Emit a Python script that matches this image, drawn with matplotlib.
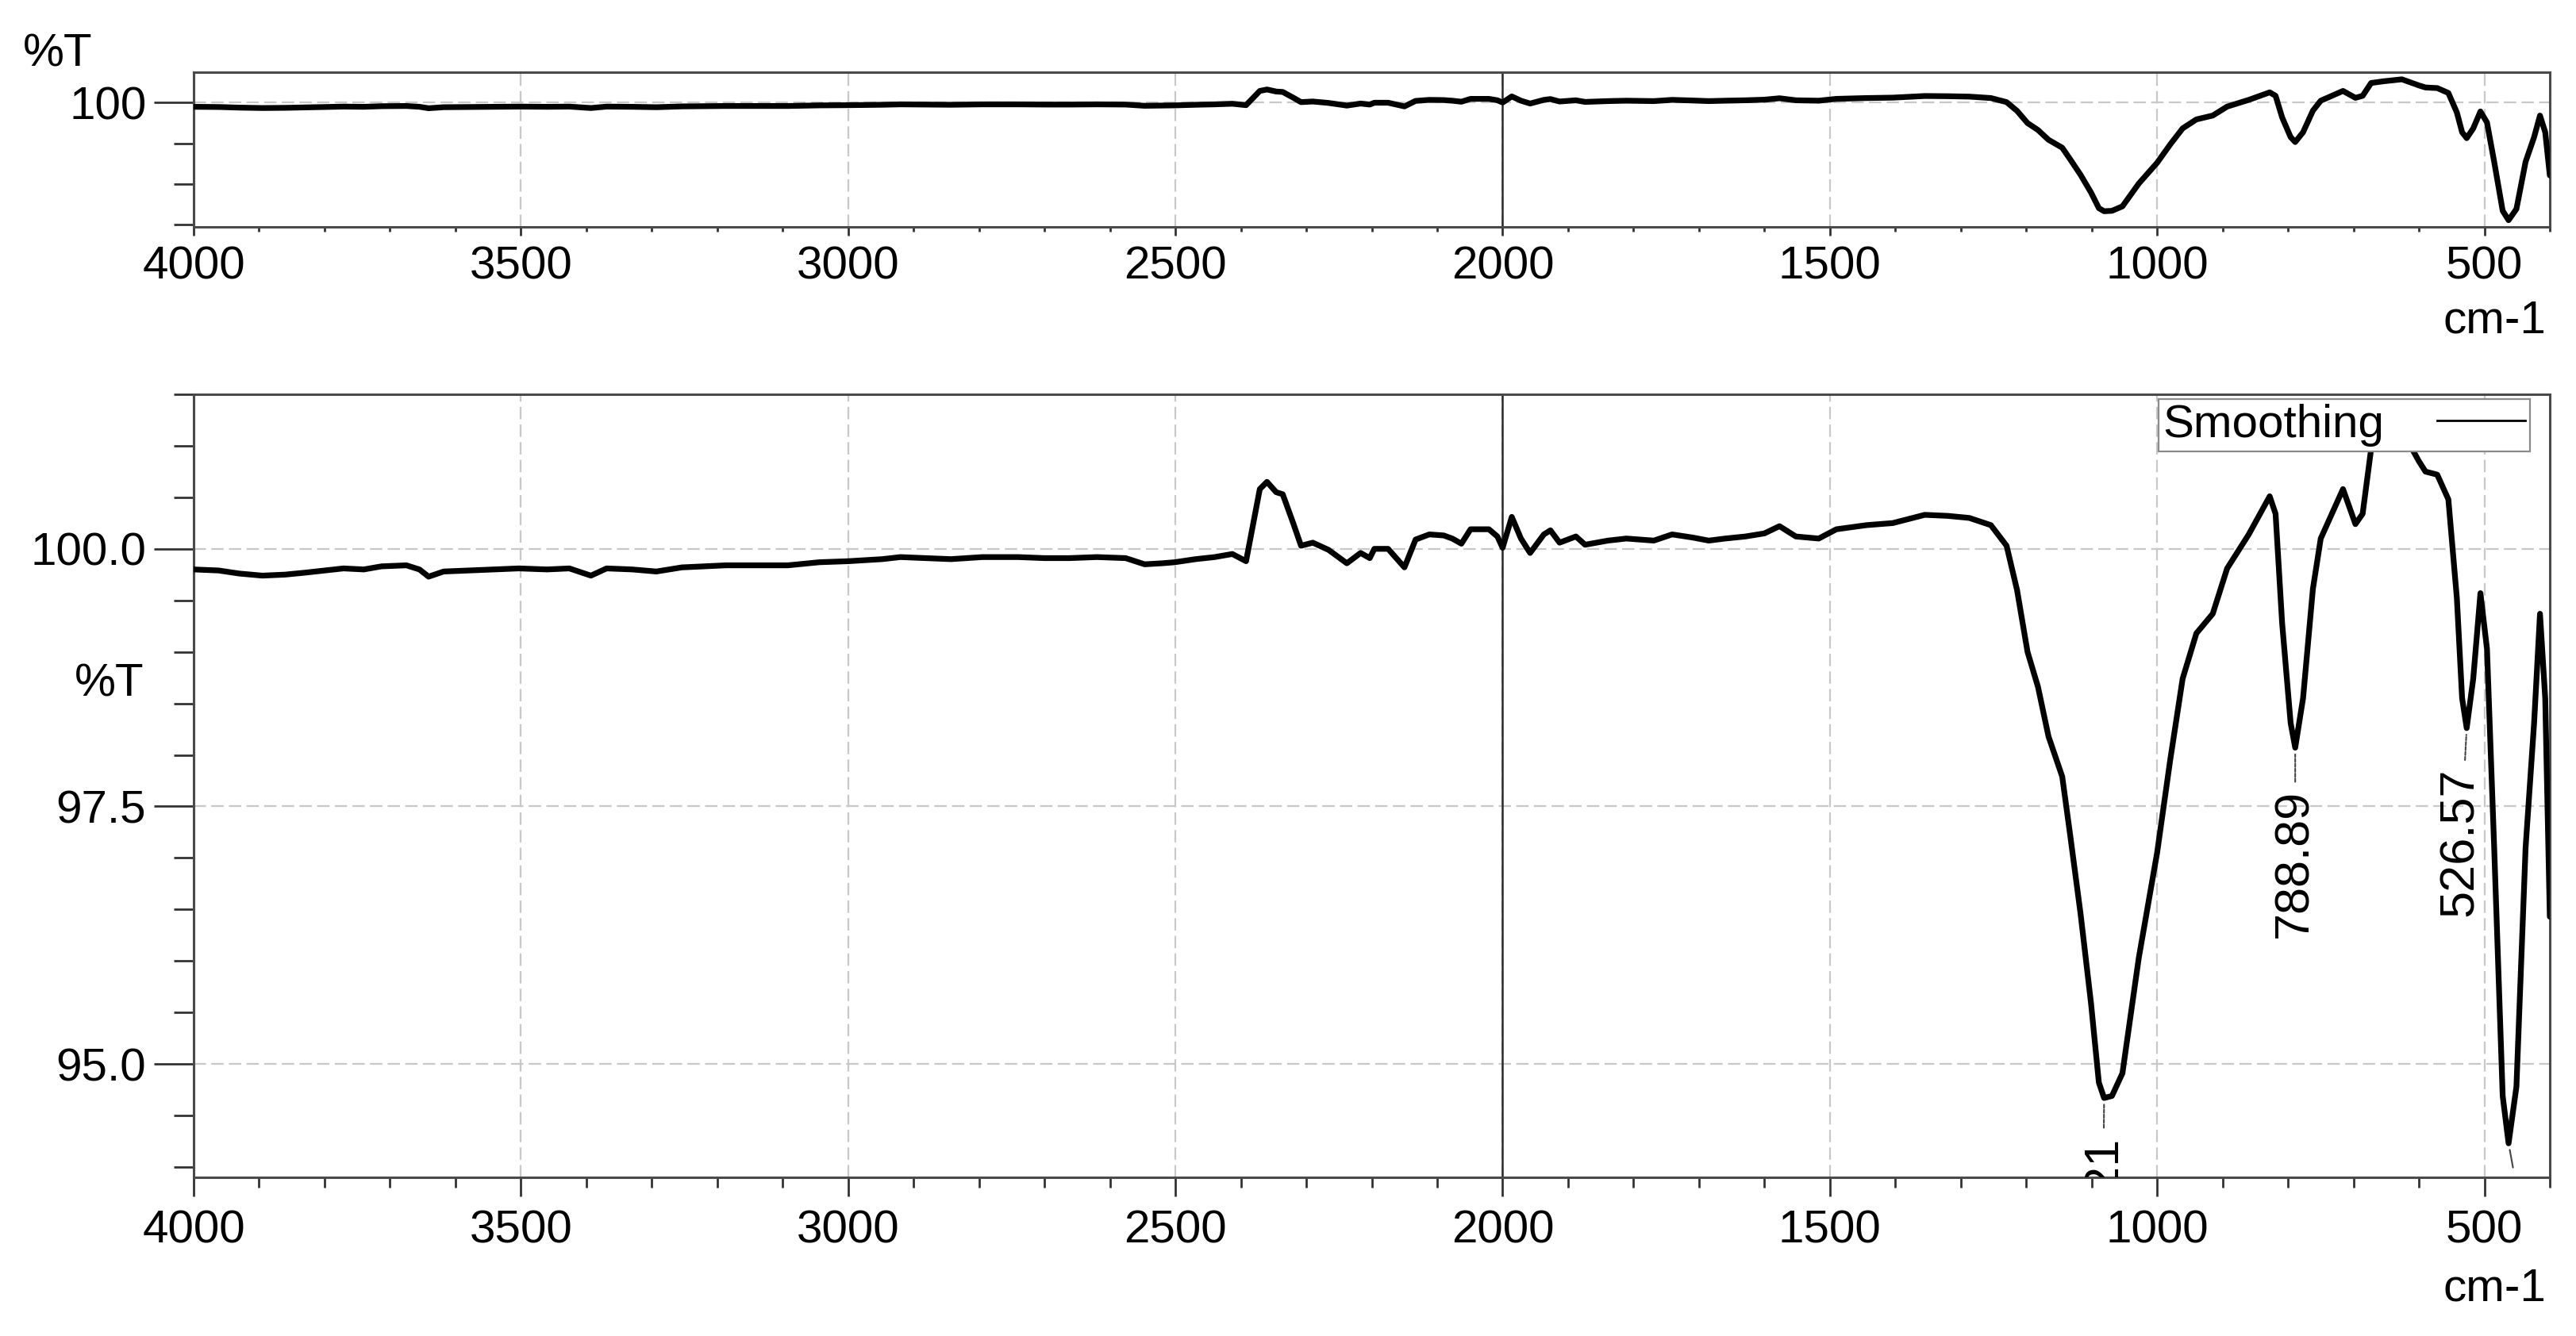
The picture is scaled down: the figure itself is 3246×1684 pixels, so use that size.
import matplotlib
matplotlib.use("Agg")
import matplotlib.pyplot as plt
from matplotlib.ticker import MultipleLocator, FixedLocator, FormatStrFormatter
from matplotlib.lines import Line2D

plt.rcParams['font.family'] = ['Liberation Sans', 'DejaVu Sans']

# ---- data ----
wavenumber = [4000, 3962, 3930, 3895, 3860, 3828, 3800, 3771, 3740, 3713, 3675, 3655, 3641,
              3618, 3580, 3540, 3503, 3460, 3426, 3393, 3369, 3330, 3293, 3254, 3220, 3187,
              3140, 3092, 3044, 3000, 2948, 2920, 2880, 2843, 2795, 2740, 2700, 2662, 2620,
              2576, 2547, 2520, 2501, 2469, 2440, 2413, 2392, 2371, 2360, 2346, 2336, 2320,
              2308, 2290, 2266, 2238, 2217, 2203, 2196, 2175, 2150, 2133, 2112, 2090, 2077,
              2063, 2049, 2021, 2008, 2000, 1986, 1972, 1958, 1937, 1927, 1913, 1888, 1874,
              1839, 1811, 1790, 1769, 1741, 1710, 1685, 1660, 1629, 1600, 1577, 1552, 1517,
              1490, 1444, 1404, 1355, 1320, 1287, 1254, 1230, 1214, 1198, 1182, 1166, 1145,
              1133, 1117, 1101, 1089, 1081, 1069, 1053, 1028, 1000, 980, 961, 940, 915, 893,
              860, 828, 819, 809, 796, 789, 777, 762, 750, 716, 697, 686, 673, 655, 626, 600,
              590, 572, 555, 542, 534, 527, 517, 506, 496, 485, 472, 463, 451, 437, 424, 415,
              407, 400]
transmittance = [99.80, 99.79, 99.76, 99.74, 99.75, 99.77, 99.79, 99.81, 99.80, 99.83, 99.84,
                 99.80, 99.73, 99.78, 99.79, 99.80, 99.81, 99.80, 99.81, 99.74, 99.81, 99.80,
                 99.78, 99.82, 99.83, 99.84, 99.84, 99.84, 99.87, 99.88, 99.90, 99.92, 99.91,
                 99.90, 99.92, 99.92, 99.91, 99.91, 99.92, 99.91, 99.85, 99.86, 99.87, 99.90,
                 99.92, 99.95, 99.88, 100.58, 100.65, 100.55, 100.53, 100.25, 100.03, 100.06,
                 99.99, 99.86, 99.96, 99.91, 100.00, 100.00, 99.82, 100.09, 100.14, 100.13,
                 100.10, 100.05, 100.19, 100.19, 100.12, 100.01, 100.31, 100.10, 99.96, 100.14,
                 100.18, 100.06, 100.12, 100.04, 100.08, 100.10, 100.09, 100.08, 100.14, 100.11,
                 100.08, 100.10, 100.12, 100.15, 100.22, 100.12, 100.10, 100.19, 100.23, 100.25,
                 100.33, 100.32, 100.30, 100.23, 100.03, 99.60, 99.00, 98.66, 98.18, 97.79,
                 97.23, 96.46, 95.59, 94.82, 94.67, 94.69, 94.91, 96.03, 97.05, 97.95, 98.74,
                 99.18, 99.37, 99.81, 100.14, 100.51, 100.34, 99.28, 98.31, 98.07, 98.55, 99.61,
                 100.10, 100.58, 100.24, 100.34, 100.97, 101.05, 101.15, 100.85, 100.75, 100.72,
                 100.48, 99.52, 98.55, 98.26, 98.74, 99.57, 99.03, 97.10, 94.69, 94.23, 94.78,
                 97.10, 98.31, 99.37, 98.55, 96.43]

peak_wn = [1081, 789, 527]
peak_T = [94.67, 98.07, 98.26]
peak_labels = ["1080.21", "788.89", "526.57"]
peak_text_dx = [-1.0, 0.0, -5.5]          # points
peak_text_dy = [-34, -38, -36]            # points
unlabeled_peak_wn = [463]
unlabeled_peak_T = [94.23]

x_major = [4000, 3500, 3000, 2500, 2000, 1500, 1000, 500]
top_y_major = [100]
top_y_minor = [94, 96, 98]
low_y_major = [95.0, 97.5, 100.0]
legend_label = "Smoothing"

FS = 42
FS_ANN = 44
W, H = 3246, 1684
fig = plt.figure(figsize=(W / 100, H / 100), dpi=100)

def px_ax(l, t, r, b):
    return [l / W, 1 - b / H, (r - l) / W, (b - t) / H]

ax_top = fig.add_axes(px_ax(244, 91, 3213, 286))
ax_low = fig.add_axes(px_ax(244, 497, 3213, 1484))

spine_col = '#4a4a4a'
grid_kw = dict(color='#c8c8c8', linewidth=1.6, dashes=(7, 3))

for ax in (ax_top, ax_low):
    ax.plot(wavenumber, transmittance, color='black', lw=5.2,
            solid_joinstyle='round', solid_capstyle='round', zorder=3)
    ax.set_xlim(4000, 400)
    ax.set_ylim(93.9, 101.5)
    ax.xaxis.set_major_locator(FixedLocator(x_major))
    ax.xaxis.set_minor_locator(MultipleLocator(100))
    for s in ax.spines.values():
        s.set_color(spine_col)
        s.set_linewidth(2.2)
    ax.grid(True, which='major', **grid_kw)
    ax.axvline(2000, color='#2a2a2a', lw=1.8, zorder=2)
    ax.tick_params(axis='both', which='both', colors='#333333', labelcolor='black',
                   labelsize=FS, width=2, direction='out')
    ax.tick_params(axis='y', which='major', length=36, pad=7)
    ax.tick_params(axis='y', which='minor', length=18)

# top panel
ax_top.yaxis.set_major_locator(FixedLocator(top_y_major))
ax_top.yaxis.set_minor_locator(FixedLocator(top_y_minor))
ax_top.yaxis.set_major_formatter(FormatStrFormatter('%d'))
ax_top.tick_params(axis='x', which='major', length=8, pad=9)
ax_top.tick_params(axis='x', which='minor', length=4)

# lower panel
ax_low.yaxis.set_major_locator(FixedLocator(low_y_major))
ax_low.yaxis.set_minor_locator(MultipleLocator(0.5))
ax_low.yaxis.set_major_formatter(FormatStrFormatter('%.1f'))
ax_low.tick_params(axis='x', which='major', length=17, pad=12)
ax_low.tick_params(axis='x', which='minor', length=9)

# peak annotations (clipped at the axes like the original)
for wn, t, lab, dx, dy in zip(peak_wn, peak_T, peak_labels, peak_text_dx, peak_text_dy):
    ann = ax_low.annotate(lab, xy=(wn, t), xytext=(dx, dy), textcoords='offset points',
                          rotation=90, ha='center', va='top', fontsize=FS_ANN, color='black',
                          arrowprops=dict(arrowstyle='-', color='#444444', lw=1.5,
                                          linestyle=(0, (2, 1)), shrinkA=5, shrinkB=6),
                          zorder=4)
    ann.set_clip_on(True)
    ann.set_clip_path(ax_low.patch)
for wn, t in zip(unlabeled_peak_wn, unlabeled_peak_T):
    ax_low.annotate('', xy=(wn, t), xytext=(4, -22), textcoords='offset points',
                    arrowprops=dict(arrowstyle='-', color='#444444', lw=1.5,
                                    shrinkA=0, shrinkB=6))

# legend
handle = Line2D([], [], color='black', lw=2, label=legend_label)
leg = ax_low.legend(handles=[handle], loc='upper right', bbox_to_anchor=(0.9916, 0.994),
                    borderaxespad=0, fontsize=FS, markerfirst=False, frameon=True,
                    fancybox=False, borderpad=0.1, handlelength=1.9, handletextpad=1.15)
leg.get_frame().set_edgecolor('#8a8a8a')
leg.get_frame().set_linewidth(1.6)
leg.get_frame().set_facecolor('white')
leg.get_frame().set_alpha(1)
leg.set_zorder(5)

# axis labels
fig.text(29 / W, 1 - 41 / H, '%T', fontsize=FS, ha='left', va='top')
fig.text(182 / W, 1 - 836 / H, '%T', fontsize=FS, ha='right', va='top')
fig.text(3208 / W, 1 - 377 / H, 'cm-1', fontsize=FS, ha='right', va='top')
fig.text(3208 / W, 1 - 1597 / H, 'cm-1', fontsize=FS, ha='right', va='top')

fig.savefig('out.png', dpi=100, facecolor='white')
